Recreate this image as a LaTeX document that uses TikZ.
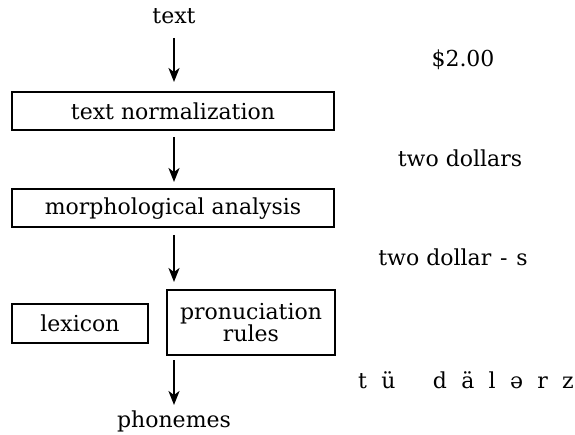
\documentclass[tikz,border=0pt]{standalone}
\usepackage{fontspec}
\setmainfont{DejaVu Serif}
\usetikzlibrary{arrows.meta}
\begin{document}
\begin{tikzpicture}[x=1pt,y=1pt,
  every node/.style={font=\fontsize{22}{25}\selectfont, inner sep=0pt},
  boxnode/.style={draw, line width=2pt, minimum height=38pt, align=center},
  flow/.style={line width=2pt, -{Stealth[length=14pt,width=11pt,inset=4pt]}}]
\useasboundingbox (0,0) rectangle (575,-435);
\node (txt) at (174,-16) {text};
\node[boxnode, minimum width=322pt] (norm) at (173,-111) {text normalization};
\node[boxnode, minimum width=322pt] (morph) at (173,-208.5) {morphological analysis};
\node[boxnode, minimum width=136pt, minimum height=39pt] (lex) at (80,-323.5) {lexicon};
\node[boxnode, minimum width=168pt, minimum height=65pt] (pron) at (251,-322.5) {pronuciation\\[-3pt]rules};
\node (ph) at (174,-421) {phonemes};
\coordinate (t1) at (174,-38);
\coordinate (t2) at (174,-82);
\coordinate (a1) at (174,-137);
\coordinate (a2) at (174,-182);
\coordinate (m1) at (174,-235);
\coordinate (m2) at (174,-282);
\coordinate (p1) at (174,-360);
\coordinate (p2) at (174,-405);
\draw[flow] (t1) -- (t2);
\draw[flow] (a1) -- (a2);
\draw[flow] (m1) -- (m2);
\draw[flow] (p1) -- (p2);
\node (r1) at (463,-60) {\$2.00};
\node (r2) at (460,-158) {two dollars};
\node (r3) at (453,-257) {two dollar\hspace{0.4em}-\hspace{0.4em}s};
\node (r4) at (466,-380) {t\hspace{0.65em}ü\hspace{1.7em}d\hspace{0.65em}ä\hspace{0.65em}l\hspace{0.65em}ə\hspace{0.65em}r\hspace{0.65em}z};
\end{tikzpicture}
\end{document}
